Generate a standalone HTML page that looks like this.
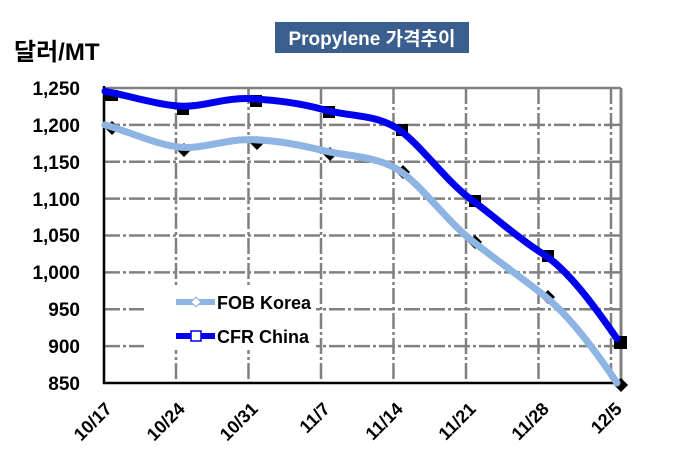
<!DOCTYPE html>
<html><head><meta charset="utf-8"><style>
body{margin:0;background:#fff;width:679px;height:469px;overflow:hidden}
text{font-family:"Liberation Sans","Noto Sans CJK KR",sans-serif;font-weight:bold}
</style></head><body>
<svg width="679" height="469" xmlns="http://www.w3.org/2000/svg">
<rect x="275" y="22" width="194" height="31" fill="#3a5f8f"/>
<text x="372" y="45" font-size="19" fill="#fff" text-anchor="middle">Propylene 가격추이</text>
<text x="14" y="60" font-size="24" fill="#000">달러/MT</text>
<g stroke="#808080" stroke-width="2.5" stroke-dasharray="16,3,3,3">
<line x1="104" y1="124.9" x2="621" y2="124.9"/><line x1="104" y1="161.8" x2="621" y2="161.8"/>
<line x1="104" y1="198.6" x2="621" y2="198.6"/><line x1="104" y1="235.5" x2="621" y2="235.5"/>
<line x1="104" y1="272.4" x2="621" y2="272.4"/><line x1="104" y1="309.3" x2="621" y2="309.3"/>
<line x1="104" y1="346.1" x2="621" y2="346.1"/>
<line x1="176" y1="88" x2="176" y2="383"/><line x1="248.5" y1="88" x2="248.5" y2="383"/>
<line x1="321" y1="88" x2="321" y2="383"/><line x1="393.5" y1="88" x2="393.5" y2="383"/>
<line x1="466" y1="88" x2="466" y2="383"/><line x1="538.5" y1="88" x2="538.5" y2="383"/>
<line x1="611" y1="88" x2="611" y2="383"/>
</g>
<line x1="104" y1="88" x2="621" y2="88" stroke="#808080" stroke-width="2.5"/>
<line x1="621" y1="88" x2="621" y2="383" stroke="#808080" stroke-width="3"/>
<rect x="144" y="288" width="172" height="62" fill="#fff"/>
<line x1="104" y1="86" x2="104" y2="384" stroke="#000" stroke-width="2.5"/>
<line x1="103" y1="383" x2="621" y2="383" stroke="#000" stroke-width="2.5"/>
<g font-size="19" text-anchor="end" fill="#000">
<text x="80" y="95">1,250</text><text x="80" y="132">1,200</text><text x="80" y="169">1,150</text>
<text x="80" y="206">1,100</text><text x="80" y="242">1,050</text><text x="80" y="279">1,000</text>
<text x="80" y="316">950</text><text x="80" y="353">900</text><text x="80" y="390">850</text>
</g>
<g font-size="18" text-anchor="end" fill="#000">
<text transform="translate(113,410) rotate(-45)">10/17</text>
<text transform="translate(186,410) rotate(-45)">10/24</text>
<text transform="translate(259,410) rotate(-45)">10/31</text>
<text transform="translate(331,410) rotate(-45)">11/7</text>
<text transform="translate(404,410) rotate(-45)">11/14</text>
<text transform="translate(477,410) rotate(-45)">11/21</text>
<text transform="translate(550,410) rotate(-45)">11/28</text>
<text transform="translate(623,410) rotate(-45)">12/5</text>
</g>
<g fill="#000">
<rect x="104" y="90" width="14" height="11"/><rect x="177" y="103" width="12" height="12"/>
<rect x="250" y="95" width="12" height="12"/><rect x="323" y="106" width="12" height="12"/>
<rect x="396" y="124" width="12" height="12"/><rect x="469" y="195" width="12" height="12"/>
<rect x="542" y="250" width="12" height="12"/><rect x="614" y="336" width="13" height="13"/>
<path d="M112 121l7 7-7 7-7-7z"/><path d="M184 143l7 7-7 7-7-7z"/>
<path d="M257 136l7 7-7 7-7-7z"/><path d="M330 147l7 7-7 7-7-7z"/>
<path d="M403 165l7 7-7 7-7-7z"/><path d="M475 235l7 7-7 7-7-7z"/>
<path d="M548 290l7 7-7 7-7-7z"/><path d="M621 378l7 7-7 7-7-7z"/>
</g>
<path d="M105 91.3 C130 96,155 104,178 106 S225 97,251 98.7 S300 103,324 109.8 S375 114,397 128.3 S445 180,470 198.6 S518 238,543 253.9 S595 307,617 338.7" fill="none" stroke="#0000ee" stroke-width="7" stroke-linecap="round"/>
<path d="M105 124.9 C130 132,155 144,178 147 S225 139,251 139.6 S300 145,324 150.7 S375 156,397 169.1 S445 219,470 239.1 S518 275,543 294.6 S595 350,617 383" fill="none" stroke="#8db4e2" stroke-width="7" stroke-linecap="round"/>
<line x1="176" y1="302" x2="215" y2="302" stroke="#8db4e2" stroke-width="6"/>
<path d="M196 297l5 5-5 5-5-5z" fill="#fff" stroke="#8db4e2"/>
<text x="217" y="309" font-size="18">FOB Korea</text>
<line x1="176" y1="336" x2="215" y2="336" stroke="#0000ee" stroke-width="6"/>
<rect x="191" y="331" width="10" height="10" fill="#fff" stroke="#0000ee" stroke-width="1.5"/>
<text x="217" y="343" font-size="18">CFR China</text>
</svg>
</body></html>
